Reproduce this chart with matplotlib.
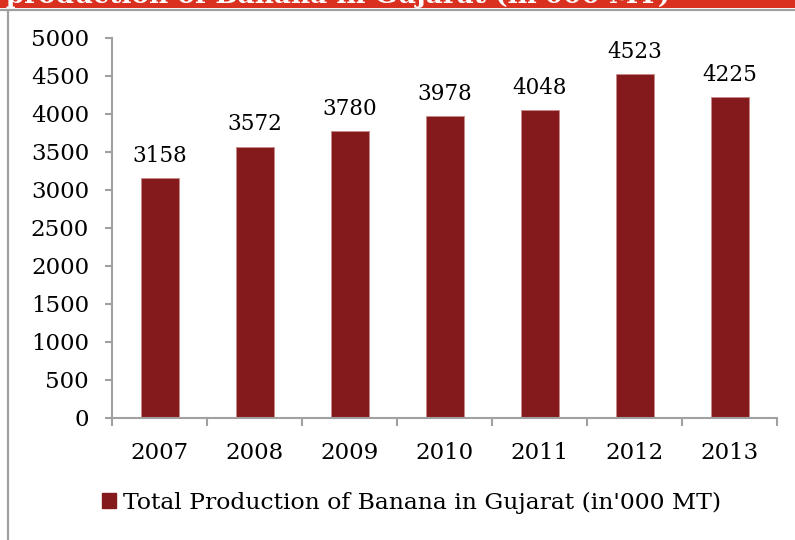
import matplotlib
matplotlib.use("Agg")
import matplotlib.pyplot as plt
from matplotlib.lines import Line2D
from matplotlib.patches import Patch

years = ["2007", "2008", "2009", "2010", "2011", "2012", "2013"]
production = [3158, 3572, 3780, 3978, 4048, 4523, 4225]
series_name = "Total Production of Banana in Gujarat (in'000 MT)"
banner_title = "Total production of Banana in Gujarat (in'000 MT)"
y_ticks = [0, 500, 1000, 1500, 2000, 2500, 3000, 3500, 4000, 4500, 5000]

bar_color = "#841A1C"
banner_color = "#D93020"
axis_gray = "#A0A0A0"
font = "DejaVu Serif"

W, H = 795, 540
fig = plt.figure(figsize=(W / 100, H / 100), dpi=100)
fig.patch.set_facecolor("white")

# red title banner, text cut by the top edge
bax = fig.add_axes([0, 1 - 8 / H, 1, 8 / H])
bax.set_xlim(0, W)
bax.set_ylim(0, 8)
bax.axis("off")
bax.add_patch(plt.Rectangle((0, 0), W, 8, color=banner_color, zorder=0))
bax.text(670, 5.3, banner_title, color="white", fontsize=19, fontweight="bold",
         family=font, ha="right", va="baseline", clip_on=True)

# frame lines around the chart area
fig.add_artist(Line2D([0, 1], [1 - 9.5 / H, 1 - 9.5 / H], transform=fig.transFigure,
                      color=axis_gray, lw=1.6))
fig.add_artist(Line2D([7.5 / W, 7.5 / W], [0, 1 - 9.5 / H], transform=fig.transFigure,
                      color=axis_gray, lw=1.6))

ax = fig.add_axes([112 / W, 1 - 418 / H, 665 / W, 380 / H])
x = list(range(len(years)))
ax.bar(x, production, width=0.4, color=bar_color, edgecolor="#C98A8A",
       linewidth=0.6, zorder=2)

for xi, v in zip(x, production):
    ax.annotate(f"{v}", (xi, v), xytext=(0, 8), textcoords="offset points",
                ha="center", va="bottom", fontsize=15.5, family=font, color="black")

ax.set_xlim(-0.5, len(years) - 0.5)
ax.set_ylim(0, 5000)
ax.set_yticks(y_ticks)
ax.set_yticklabels([str(t) for t in y_ticks], fontsize=16.5, family=font)
ax.set_xticks([i - 0.5 for i in range(len(years) + 1)])
ax.set_xticklabels([])
ax.set_xticks(x, minor=True)
ax.set_xticklabels(years, minor=True, fontsize=16.5, family=font)
ax.tick_params(axis="x", which="major", direction="out", length=6, width=1.5,
               color=axis_gray)
ax.tick_params(axis="x", which="minor", length=0, pad=17)
ax.tick_params(axis="y", direction="out", length=5, width=1.5, color=axis_gray, pad=11.5)

for s in ["top", "right"]:
    ax.spines[s].set_visible(False)
for s in ["left", "bottom"]:
    ax.spines[s].set_color(axis_gray)
    ax.spines[s].set_linewidth(1.5)

handle = Patch(facecolor=bar_color, edgecolor=bar_color)
fig.legend([handle], [series_name], loc="center",
           bbox_to_anchor=(412 / W, 1 - 503 / H), frameon=False,
           prop={"family": font, "size": 16.9}, handlelength=0.6, handleheight=0.6,
           handletextpad=0.3)

fig.savefig("out.png", dpi=100)
